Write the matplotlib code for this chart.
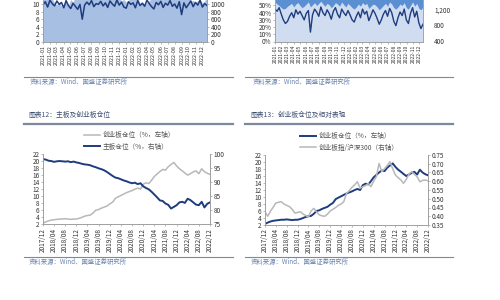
import matplotlib
matplotlib.use('Agg')
import matplotlib.pyplot as plt
import matplotlib.dates as mdates
from matplotlib.lines import Line2D
from matplotlib.ticker import MultipleLocator, FormatStrFormatter, FuncFormatter
import pandas as pd

plt.rcParams['font.family'] = ['Noto Sans CJK SC', 'DejaVu Sans']
plt.rcParams['axes.unicode_minus'] = False

NAVY = '#1f3c7e'
GRAY = '#b8b8b8'
SPINE = '#a0a0a0'
TXT = '#333333'
SRC = '#6a82ad'
RULE = '#7c889e'

# ---- top charts (2021-01 .. 2022-12), cut off at the top of the page ----
top_dates = pd.date_range('2021-01-01', '2022-12-20', periods=72)
top_ticks = pd.date_range('2021-01-01', '2022-12-01', freq='MS')

tl_line = [9.8, 10.6, 9.2, 11.0, 10.1, 9.5, 10.8, 9.9, 10.4, 9.0, 10.9, 9.6,
           8.8, 10.2, 9.4, 8.6, 9.9, 6.0, 9.7, 10.5, 9.8, 10.9, 9.3, 10.1,
           9.9, 10.7, 9.5, 10.3, 9.1, 10.8, 10.0, 9.4, 11.1, 9.7, 10.5, 9.2,
           8.9, 10.6, 9.9, 10.3, 9.0, 10.9, 9.6, 10.2, 9.4, 11.0, 10.1, 9.3,
           8.7, 10.4, 9.8, 10.7, 9.1, 10.2, 9.7, 10.9, 9.4, 10.0, 8.9, 10.6,
           7.2, 10.3, 9.0, 9.9, 10.8, 9.3, 10.4, 9.7, 11.0, 9.2, 10.1, 9.6]
tl_fill = [1250, 1180, 1300, 1220, 1150,
           1020, 980, 1060, 940, 1000, 1080, 960, 1120, 1050, 1200,
           1260, 1190, 1300, 1240, 1170, 1280, 1210, 1320, 1190, 1250, 1160, 1230,
           1290, 1200, 1180, 1270, 1220, 1310, 1160,
           1080, 1120, 1050, 1100, 1140,
           1230, 1280, 1190,
           1010, 1060, 980, 1040, 1090, 1150,
           1260, 1210, 1300, 1180, 1240, 1290, 1170, 1230, 1320, 1200, 1260, 1190,
           1280, 1220, 1170, 1250,
           1060, 1100, 1040, 1090, 1120, 1030, 1080,
           1200]
tl_left_ticks = [0, 2, 4, 6, 8, 10]
tl_right_ticks = [0, 200, 400, 600, 800, 1000]

tr_line = [45, 42, 47, 38, 30, 25, 28, 35, 40, 33, 44, 38,
           42, 36, 30, 39, 43, 13, 37, 45, 41, 35, 48, 40,
           36, 44, 39, 31, 42, 47, 38, 33, 45, 40, 36, 43,
           37, 30, 27, 35, 41, 33, 45, 38, 42, 29, 36, 44,
           39, 32, 24, 30, 38, 43, 35, 46, 40, 28, 22, 33,
           41, 36, 45, 30, 25, 39, 47, 34, 42, 26, 18, 24]
tr_light = [55, 52, 50, 47, 45, 46, 49, 51, 53, 48, 52, 54,
            50, 47, 49, 52, 55, 48, 51, 54, 50, 53, 56, 52,
            49, 53, 51, 47, 50, 54, 52, 49, 55, 51, 48, 53,
            50, 47, 45, 48, 52, 49, 54, 51, 53, 46, 49, 52,
            51, 48, 44, 47, 50, 53, 49, 55, 52, 47, 45, 48,
            52, 50, 54, 47, 45, 50, 55, 49, 53, 46, 44, 48]
tr_total = [1720, 1700, 1750, 1690, 1710, 1740, 1700, 1730, 1760, 1690, 1720, 1710,
            1700, 1740, 1720, 1690, 1750, 1710, 1730, 1700, 1760, 1720, 1690, 1740,
            1710, 1730, 1700, 1750, 1720, 1690, 1740, 1710, 1760, 1700, 1730, 1720,
            1690, 1740, 1710, 1750, 1700, 1730, 1720, 1690, 1760, 1710, 1740, 1700,
            1730, 1720, 1690, 1750, 1710, 1740, 1700, 1760, 1720, 1690, 1730, 1710,
            1740, 1700, 1750, 1720, 1690, 1730, 1710, 1760, 1700, 1740, 1720, 1690]
tr_left_ticks = [0, 10, 20, 30, 40, 50]
tr_right_ticks = [400, 800, 1200]

# ---- bottom charts (monthly 2017-12 .. 2022-12) ----
bot_dates = pd.date_range('2017-12-01', '2022-12-01', freq='MS')
bot_ticks = pd.date_range('2017-12-01', '2022-12-01', freq='4MS')
cyb_pos = [2.3,
           2.7, 3.0, 3.2, 3.3, 3.4, 3.5, 3.5, 3.6, 3.5, 3.4, 3.5, 3.5,
           3.7, 4.0, 4.3, 4.5, 4.6, 5.2, 6.0, 6.2, 6.6, 6.9, 7.2, 7.8,
           8.3, 9.4, 9.8, 10.2, 10.6, 11.0, 11.3, 11.6, 12.0, 12.3, 12.0, 13.4,
           13.8, 13.6, 14.5, 15.6, 16.3, 17.0, 17.6, 17.4, 18.4, 19.0, 19.6, 18.6,
           17.8, 17.2, 16.6, 16.0, 16.4, 16.9, 17.2, 16.4, 17.8, 17.0, 16.5, 16.2]
main_pos = [98.2,
            98.0, 97.6, 97.5, 97.2, 97.4, 97.5, 97.4, 97.3, 97.4, 97.1, 97.3, 97.0,
            96.8, 96.5, 96.3, 96.2, 96.0, 95.6, 95.3, 94.9, 94.6, 94.2, 93.6, 92.9,
            92.2, 91.6, 91.4, 91.0, 90.6, 90.3, 89.9, 89.6, 89.8, 89.3, 89.6, 88.5,
            87.9, 87.4, 86.6, 85.6, 84.6, 83.5, 83.3, 82.4, 81.9, 80.6, 81.2, 81.8,
            82.8, 83.0, 82.6, 84.1, 83.6, 82.8, 82.0, 81.8, 83.0, 81.0, 82.3, 82.8]
cyb_rel = [0.425,
           0.400, 0.430, 0.450, 0.475, 0.480, 0.483, 0.470, 0.462, 0.455, 0.440, 0.418, 0.422,
           0.426, 0.412, 0.405, 0.395, 0.430, 0.445, 0.425, 0.408, 0.402, 0.400, 0.412, 0.430,
           0.440, 0.450, 0.462, 0.470, 0.483, 0.530, 0.546, 0.565, 0.580, 0.597, 0.560, 0.569,
           0.575, 0.588, 0.569, 0.600, 0.626, 0.702, 0.655, 0.672, 0.690, 0.712, 0.670, 0.636,
           0.620, 0.607, 0.588, 0.610, 0.640, 0.655, 0.640, 0.626, 0.597, 0.605, 0.607, 0.603]

fig = plt.figure(figsize=(5, 3), dpi=100)
fig.patch.set_facecolor('white')


def px_axes(x0, y0, x1, y1):
    # box in pixels, origin top-left
    return fig.add_axes([x0 / 500, 1 - y1 / 300, (x1 - x0) / 500, (y1 - y0) / 300])


def style(ax, ax2, size=4.6):
    for a in (ax, ax2):
        for s in a.spines.values():
            s.set_color(SPINE)
            s.set_linewidth(0.6)
        a.spines['top'].set_visible(False)
        a.tick_params(labelsize=size, length=1.5, width=0.5, colors=SPINE,
                      labelcolor=TXT, pad=1)


def date_axis(ax, fmt, ticks, size):
    ax.set_xticks(ticks)
    ax.xaxis.set_major_formatter(mdates.DateFormatter(fmt))
    for lab in ax.get_xticklabels():
        lab.set_rotation(90)
        lab.set_fontsize(size)


# top-left
ax = px_axes(43, -11.2, 207, 42)
ax2 = ax.twinx()
ax2.fill_between(top_dates, 0, tl_fill, color='#a6bfe3', lw=0)
ax.plot(top_dates, tl_line, color=NAVY, lw=1.1)
ax.set_zorder(ax2.get_zorder() + 1)
ax.patch.set_visible(False)
ax.set_ylim(0, 14)
ax2.set_ylim(0, 1400)
ax.set_yticks(tl_left_ticks)
ax2.set_yticks(tl_right_ticks)
ax.set_xlim(top_dates[0], top_dates[-1])
style(ax, ax2)
date_axis(ax, '%Y-%m', top_ticks, 3.9)

# top-right
ax = px_axes(275, -8.9, 423, 41.5)
ax2 = ax.twinx()
ax2.fill_between(top_dates, 400, tr_total, color='#5a8fd2', lw=0)
ax.fill_between(top_dates, 0, tr_light, color='#d0ddf1', lw=0)
ax.plot(top_dates, tr_line, color=NAVY, lw=1.0)
ax.set_zorder(ax2.get_zorder() + 1)
ax.patch.set_visible(False)
ax.set_ylim(0, 70)
ax2.set_ylim(400, 1660)
ax.set_yticks(tr_left_ticks)
ax.yaxis.set_major_formatter(FuncFormatter(lambda v, p: '%d%%' % v))
ax2.set_yticks(tr_right_ticks)
ax2.yaxis.set_major_formatter(FuncFormatter(lambda v, p: '{:,.0f}'.format(v)))
ax.set_xlim(top_dates[0], top_dates[-1])
style(ax, ax2)
ax2.spines['right'].set_visible(False)
ax2.tick_params(axis='y', length=0, pad=8)
date_axis(ax, '%Y-%m', top_ticks, 3.6)

# bottom-left
ax = px_axes(43, 154, 210, 224.3)
ax2 = ax.twinx()
l1, = ax.plot(bot_dates, cyb_pos, color=GRAY, lw=1.1)
l2, = ax2.plot(bot_dates, main_pos, color=NAVY, lw=1.4)
ax.set_ylim(2, 22)
ax2.set_ylim(75, 100)
ax.yaxis.set_major_locator(MultipleLocator(2))
ax2.yaxis.set_major_locator(MultipleLocator(5))
ax.set_xlim(bot_dates[0], bot_dates[-1])
style(ax, ax2)
date_axis(ax, '%Y/%m', bot_ticks, 4.6)
fig.legend([l1, l2], ['创业板仓位（%，左轴）', '主板仓位（%，右轴）'],
           loc='upper left', bbox_to_anchor=(84 / 500, 1 - 131 / 300),
           frameon=False, fontsize=4.8, handlelength=2.4, handletextpad=0.4,
           labelspacing=0.55, borderpad=0, borderaxespad=0, labelcolor='#555555')

# bottom-right
ax = px_axes(265, 155, 428, 225)
ax2 = ax.twinx()
l1, = ax.plot(bot_dates, cyb_pos, color=NAVY, lw=1.4)
l2, = ax2.plot(bot_dates, cyb_rel, color=GRAY, lw=1.1)
ax.set_ylim(2, 22)
ax2.set_ylim(0.35, 0.75)
ax.yaxis.set_major_locator(MultipleLocator(2))
ax2.yaxis.set_major_locator(MultipleLocator(0.05))
ax2.yaxis.set_major_formatter(FormatStrFormatter('%.2f'))
ax.set_xlim(bot_dates[0], bot_dates[-1])
style(ax, ax2)
date_axis(ax, '%Y/%m', bot_ticks, 4.6)
fig.legend([l1, l2], ['创业板仓位（%，左轴）', '创业板指/沪深300（右轴）'],
           loc='upper left', bbox_to_anchor=(300 / 500, 1 - 132 / 300),
           frameon=False, fontsize=4.8, handlelength=2.4, handletextpad=0.4,
           labelspacing=0.55, borderpad=0, borderaxespad=0, labelcolor='#555555')


# page decorations: rules, titles, sources
def rule(x0, x1, y, lw, color):
    fig.add_artist(Line2D([x0 / 500, x1 / 500], [1 - y / 300, 1 - y / 300],
                          color=color, lw=lw, transform=fig.transFigure))


def ptext(x, y, s, size, color):
    fig.text(x / 500, 1 - y / 300, s, fontsize=size, color=color,
             va='center', ha='left', style='italic')


for x0, x1 in [(24, 233), (245, 453)]:
    rule(x0, x1, 77, 0.8, RULE)
    rule(x0, x1, 124, 1.6, RULE)
    rule(x0, x1, 257, 0.8, RULE)

src = '资料来源：Wind、国盛证券研究所'
ptext(30, 82, src, 4.6, SRC)
ptext(253, 82, src, 4.6, SRC)
ptext(29, 262, src, 4.6, SRC)
ptext(251, 262, src, 4.6, SRC)
ptext(28, 115, '图表12：主板及创业板仓位', 4.9, '#3d4f70')
ptext(250, 115, '图表13：创业板仓位及相对表现', 4.9, '#3d4f70')

fig.savefig('out.png', dpi=100, facecolor='white')
